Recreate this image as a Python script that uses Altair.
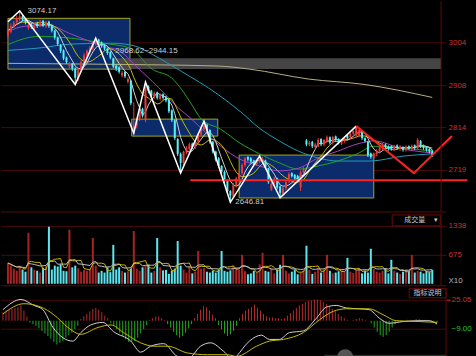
import altair as alt
import pandas as pd

# ---------------- data ----------------
opens = [3020,3028,3040,3048,3055,3062,3055,3036,3044,3036,
         3046,3040,3052,3040,3050,3042,3030,3014,2998,2986,
         2970,2950,2956,2945,2922,2944,2958,2974,2984,2990,
         3000,3010,3004,2998,2990,2982,2968,2952,2948,2930,
         2938,2916,2918,2808,2818,2832,2855,2830,2905,2896,
         2882,2892,2878,2888,2882,2876,2852,2830,2788,2755,
         2735,2758,2766,2778,2770,2782,2798,2810,2820,2808,
         2782,2760,2745,2728,2715,2696,2672,2660,2684,2700,
         2712,2730,2748,2745,2740,2732,2738,2736,2740,2722,
         2676,2690,2700,2682,2666,2678,2694,2712,2708,2706,
         2680,2714,2785,2776,2782,2770,2772,2788,2776,2784,
         2792,2780,2794,2788,2778,2784,2796,2792,2800,2796,
         2796,2806,2790,2782,2756,2746,2754,2762,2768,2776,
         2772,2772,2766,2774,2766,2770,2764,2772,2766,2774,
         2768,2784,2774,2770,2766,2762]
closes = [3030,3040,3048,3058,3062,3055,3048,3042,3038,3044,
          3040,3050,3042,3048,3040,3030,3015,3000,2985,2968,
          2960,2956,2945,2925,2942,2960,2975,2985,2992,3000,
          3008,3002,2996,2990,2980,2970,2950,2945,2938,2936,
          2928,2922,2868,2818,2832,2850,2840,2905,2895,2885,
          2890,2880,2886,2880,2874,2850,2830,2790,2755,2735,
          2760,2768,2776,2770,2782,2798,2812,2818,2808,2782,
          2760,2742,2728,2715,2695,2672,2662,2685,2700,2712,
          2730,2745,2742,2738,2734,2740,2745,2744,2725,2692,
          2688,2700,2680,2668,2678,2692,2710,2705,2700,2698,
          2714,2722,2776,2780,2772,2776,2786,2776,2786,2792,
          2780,2792,2786,2780,2786,2790,2790,2800,2806,2814,
          2808,2790,2784,2752,2748,2756,2762,2770,2775,2770,
          2766,2766,2772,2768,2772,2764,2771,2767,2773,2768,
          2786,2772,2768,2764,2760,2752]
highs = [3036,3046,3052,3064,3074,3066,3058,3048,3048,3048,
         3050,3054,3054,3052,3052,3044,3032,3016,3000,2988,
         2972,2960,2958,2948,2946,2964,2980,2988,2996,3004,
         3013,3012,3006,3000,2992,2984,2970,2955,2950,2940,
         2940,2926,2920,2870,2836,2856,2858,2915,2908,2898,
         2894,2894,2890,2890,2884,2878,2854,2832,2790,2758,
         2762,2772,2780,2780,2786,2802,2816,2828,2822,2810,
         2784,2762,2748,2730,2718,2698,2674,2690,2704,2716,
         2734,2748,2750,2748,2742,2744,2750,2748,2742,2724,
         2692,2704,2702,2684,2682,2696,2714,2714,2710,2708,
         2718,2726,2788,2784,2784,2780,2790,2790,2788,2796,
         2794,2795,2796,2790,2788,2794,2798,2802,2808,2817,
         2812,2808,2792,2784,2758,2758,2766,2773,2779,2778,
         2774,2774,2775,2776,2774,2772,2774,2774,2776,2776,
         2790,2786,2776,2772,2768,2764]
lows = [3014,3024,3036,3044,3050,3050,3044,3032,3034,3032,
        3036,3038,3038,3036,3036,3026,3010,2996,2980,2964,
        2956,2946,2940,2910,2918,2940,2954,2970,2980,2986,
        2996,2998,2992,2986,2976,2966,2946,2940,2934,2926,
        2924,2912,2864,2801,2812,2828,2836,2826,2890,2880,
        2878,2876,2874,2876,2870,2846,2826,2786,2750,2712,
        2730,2754,2762,2766,2766,2778,2794,2806,2804,2778,
        2756,2738,2724,2710,2690,2668,2647,2656,2680,2696,
        2708,2726,2738,2734,2730,2728,2734,2732,2722,2688,
        2672,2686,2676,2657,2662,2674,2690,2702,2696,2694,
        2672,2710,2772,2772,2768,2766,2770,2772,2772,2780,
        2776,2776,2782,2776,2774,2780,2786,2788,2796,2792,
        2792,2786,2780,2748,2744,2742,2750,2758,2764,2766,
        2762,2762,2762,2764,2762,2760,2760,2764,2762,2764,
        2764,2768,2764,2760,2756,2748]
volumes = [480,420,350,300,420,330,280,1180,380,330,
           300,260,370,400,1320,330,420,400,450,300,
           290,1250,380,420,360,280,320,300,340,1060,
           420,260,300,260,380,270,900,330,380,300,
           260,290,350,1220,350,300,380,430,440,260,
           300,1060,380,310,320,230,300,350,990,420,
           330,260,400,240,280,760,350,360,280,260,
           300,260,330,760,300,280,310,420,380,330,
           670,290,220,240,300,260,450,716,300,280,
           360,240,330,440,670,300,240,280,330,220,
           260,310,880,320,230,280,350,260,330,670,
           300,240,260,290,330,300,600,280,250,310,
           360,240,300,260,810,340,280,260,300,360,
           240,555,300,260,230,280,330,300,670,260,
           300,280,240,300,270,320]
macd_hist = [10,12,13,14,15,16,18,12,
             5,
             -2,-4,-6,-9,-12,-15,-18,-21,-25,-28,-26,-24,-20,-17,-14,-10,-6,
             2,5,8,11,14,15,13,10,6,3,
             -3,-6,-10,-14,-18,-22,-25,-25,-24,-20,-15,-10,-5,
             1,3,5,5,3,1,
             -4,-8,-13,-17,-20,-18,-14,-9,-4,
             3,8,13,17,16,12,7,3,
             -5,-10,-15,-18,-16,-12,-6,
             3,8,12,14,16,19,15,12,8,
             5,4,4,3,3,2,
             3,6,9,12,15,18,20,22,23,24,25,25,24,22,20,17,14,11,8,5,3,
             1,0,1,2,3,2,1,0,
             -3,-8,-13,-17,-19,-17,-13,-8,-4,
             -1,-1,0,1,1,1,2,2,1,1,0,-1,-1,-2]

dif_idx = [0,6,10.3,13.3,16.7,23.3,26,29.3,33.3,37,42.7,46,49.3,53.7,58.3,62,66,69.3,73.7,77,78,
           82.3,86.3,89,92.3,95.7,100.3,104.7,108,111.3,114.7,119,122.3,125.7,129,133.7,139,142.3,145]
dif_val = [13,25,18,13,-8,-24,-14,-5,-2,-13,-24,-37,-30,-27,-42,-44,-30,-26,-36,-46,-42,
           -24,-17,-22,-22,-14,-12,3,16,18,15,14,13,3,-3,-1,0,0,-4]
dea_idx = [0,7,12.7,17,21.7,26,31.7,36,40.3,46,50.3,55,61.7,68.3,75,78,84.7,89,93.7,100.3,105.7,
           110.3,114.7,122.3,127,131.3,139,145]
dea_val = [8,20,16,7,-8,-16,-8,-5,-14,-26,-30,-30,-38,-40,-40,-42,-30,-24,-22,-14,1,
           11,14,14,7,0,-1,-2]

ma20_idx = [0,6,13.7,21.7,32.7,38.3,43.7,49.3,53.7,58.3,62.7,67.7,72.7,79.3,86,92.7,99.3,106,112.7,119.3,125,135,145]
ma20_val = [3028,3040,3042,3022,2995,2984,2951,2917,2888,2857,2833,2801,2772,2743,2728,2717,2723,2746,2761,2777,2784,2766,2757]
ma30_idx = [0,10.3,21.7,32.7,41.7,49.3,56,59.3,62.7,66,72.7,79.3,86,92.7,99.3,106,112.7,119.3,125,135,145]
ma30_val = [2999,3017,3013,3002,2991,2944,2924,2899,2866,2833,2810,2779,2755,2735,2721,2728,2739,2755,2772,2768,2761]
ma60_idx = [0,10.3,21.7,36,43.7,49.3,59.3,71.7,79.3,86,92.7,99.3,106,112.7,123.7,135,145]
ma60_val = [2986,2991,3000,3002,2995,2977,2939,2888,2850,2812,2784,2761,2746,2739,2739,2750,2755]
ma120_idx = [0,32.7,71.7,82.7,102.7,121.7,145]
ma120_val = [2957,2955,2951,2944,2922,2910,2881]

zig_idx = [0,4,23,30,43,47,59,67,76,86,93,119]
zig_val = [3050,3074.17,2910,3013,2801,2915,2712,2828,2646.81,2750,2657,2817]
red_idx = [119,138.7,151.7]
red_val = [2817,2712,2795]
hline_idx = [62.3,157]
hline_val = [2696,2696]

box_x0 = [0,42.3,79]
box_x1 = [41.7,71.7,125]
box_top = [3057.5,2832.5,2752.3]
box_bot = [2944.15,2794.6,2656.6]
band_x0, band_x1, band_top, band_bot = 36, 148, 2968.62, 2944.15

price_ticks = [2719, 2814, 2908, 3004]
vol_ticks = [1338, 675, 70]
macd_ticks = [25.05, -9.00]

# ---------------- styling ----------------
RED = "#ec3b3b"
CYAN = "#54f2fa"
VRED = "#a82424"
VCYAN = "#5ee6f0"
GRID = "#480a0a"
FRAME = "#5a0c0c"
AXRED = "#cc3030"
FONT = "Liberation Sans"
XMAX = 148

N = len(closes)
df = pd.DataFrame({"i": list(range(N)), "open": opens, "close": closes, "high": highs,
                   "low": lows, "vol": volumes, "hist": macd_hist})

XS = alt.Scale(domain=[-0.667, XMAX], nice=False, zero=False)


def X(f="i"):
    return alt.X(f"{f}:Q", scale=XS, axis=None)


MS = alt.Scale(domain=[2625.4, 3095.3], nice=False, zero=False)
main_ax = alt.Axis(orient="right", values=price_ticks, format="d", grid=True, gridColor=GRID,
                   ticks=False, domain=False, labelColor=AXRED, labelFont=FONT, labelFontSize=8,
                   labelPadding=2, title=None, minExtent=30, maxExtent=30)


def PY(f):
    return alt.Y(f"{f}:Q", scale=MS, axis=main_ax)


def frame_rules(ycall, ybottom):
    v = alt.Chart(pd.DataFrame({"x": [XMAX]})).mark_rule(color=FRAME, strokeWidth=1).encode(x=X("x"))
    h = alt.Chart(pd.DataFrame({"y": [ybottom]})).mark_rule(color=FRAME, strokeWidth=1).encode(y=ycall("y"))
    return v, h


up = "datum.close >= datum.open"
ccol = alt.condition(up, alt.value(RED), alt.value(CYAN))

boxes = alt.Chart(pd.DataFrame({"x0": box_x0, "x1": box_x1, "top": box_top, "bot": box_bot})).mark_rect(
    fill="#0b2b6b", stroke="#a6a622", strokeWidth=1).encode(x=X("x0"), x2="x1:Q", y=PY("top"), y2="bot:Q")
band = alt.Chart(pd.DataFrame({"x0": [band_x0], "x1": [band_x1], "top": [band_top], "bot": [band_bot]})).mark_rect(
    fill="#4c4c4c", opacity=0.9).encode(x=X("x0"), x2="x1:Q", y=PY("top"), y2="bot:Q")


def sparse_line(ix, vals, color):
    return alt.Chart(pd.DataFrame({"x": ix, "y": vals})).mark_line(
        color=color, strokeWidth=1, interpolate="monotone").encode(x=X("x"), y=PY("y"))


ma120 = sparse_line(ma120_idx, ma120_val, "#b8ae84")
ma60 = sparse_line(ma60_idx, ma60_val, "#1f9cb6")
ma30 = sparse_line(ma30_idx, ma30_val, "#22a422")
ma20 = sparse_line(ma20_idx, ma20_val, "#a444c4")
ma10 = alt.Chart(df).transform_window(m="mean(close)", frame=[-9, 0], sort=[{"field": "i"}]).mark_line(
    color="#c2ba00", strokeWidth=1).encode(x=X(), y=PY("m"))
ma5 = alt.Chart(df).transform_window(m="mean(close)", frame=[-4, 0], sort=[{"field": "i"}]).mark_line(
    color="#cfcfcf", strokeWidth=1).encode(x=X(), y=PY("m"))

wick = alt.Chart(df).mark_rule(strokeWidth=1).encode(x=X(), y=PY("low"), y2="high:Q", color=ccol)
body = alt.Chart(df).mark_bar(size=2).encode(x=X(), y=PY("open"), y2="close:Q", color=ccol)

zig = alt.Chart(pd.DataFrame({"x": zig_idx, "y": zig_val})).mark_line(
    color="#ffffff", strokeWidth=1.5).encode(x=X("x"), y=PY("y"))
redv = alt.Chart(pd.DataFrame({"x": red_idx, "y": red_val})).mark_line(
    color="#ff2222", strokeWidth=2, clip=False).encode(x=X("x"), y=PY("y"))
hline = alt.Chart(pd.DataFrame({"x": hline_idx, "y": hline_val})).mark_line(
    color="#ff2222", strokeWidth=2, clip=False).encode(x=X("x"), y=PY("y"))

labels = alt.Chart(pd.DataFrame({
    "x": [6.7, 36.7, 77.7], "y": [3074.17, 2984, 2647],
    "t": ["3074.17", "2968.62~2944.15", "2646.81"]})).mark_text(
    align="left", baseline="middle", font=FONT, fontSize=8, color="#cccccc").encode(
    x=X("x"), y=PY("y"), text="t:N")

mv, mh = frame_rules(PY, 2625.4)
main = alt.layer(boxes, band, ma120, ma60, ma30, ma20, ma10, ma5, wick, body, hline, zig, redv, labels,
                 mv, mh).properties(width=446, height=211)

# ---------------- volume panel ----------------
VS = alt.Scale(domain=[-46, 1615], nice=False, zero=False)
vol_ax = alt.Axis(orient="right", values=vol_ticks, format="d",
                  labelExpr="datum.value == 70 ? 'X10' : datum.label",
                  grid=True,
                  gridColor={"condition": {"test": "datum.value == 70", "value": "transparent"}, "value": GRID},
                  labelColor={"condition": {"test": "datum.value == 70", "value": "#b4b4b4"}, "value": AXRED},
                  ticks=False, domain=False, labelFont=FONT, labelFontSize=8, labelPadding=2,
                  title=None, minExtent=30, maxExtent=30)


def VY(f):
    return alt.Y(f"{f}:Q", scale=VS, axis=vol_ax)


vbars = alt.Chart(df).transform_calculate(z="0").mark_bar(size=2).encode(
    x=X(), y=VY("vol"), y2="z:Q", color=alt.condition(up, alt.value(VRED), alt.value(VCYAN)))
vma5 = alt.Chart(df).transform_window(m="mean(vol)", frame=[-4, 0], sort=[{"field": "i"}]).mark_line(
    color="#c8b400", strokeWidth=1).encode(x=X(), y=VY("m"))
vma10 = alt.Chart(df).transform_window(m="mean(vol)", frame=[-9, 0], sort=[{"field": "i"}]).mark_line(
    color="#bdbdbd", strokeWidth=1).encode(x=X(), y=VY("m"))
vbox = alt.Chart(pd.DataFrame({"x0": [131.3], "x1": [147.7], "top": [1592], "bot": [1338]})).mark_rect(
    fill="#000000", stroke="#6a0c0c", strokeWidth=1).encode(x=X("x0"), x2="x1:Q", y=VY("top"), y2="bot:Q")
vtxt = alt.Chart(pd.DataFrame({"x": [139, 146.2], "y": [1468, 1468], "t": ["成交量", "▾"]})).mark_text(
    font="Noto Sans CJK SC", fontSize=7, color="#c8c8c8", baseline="middle").encode(
    x=X("x"), y=VY("y"), text="t:N")

vv, vh = frame_rules(VY, -46)
vol = alt.layer(vbars, vma5, vma10, vbox, vtxt, vv, vh).properties(width=446, height=72)

# ---------------- MACD panel ----------------
DS = alt.Scale(domain=[-46.95, 38.73], nice=False, zero=False)
macd_ax = alt.Axis(orient="right", values=macd_ticks, format=".2f", grid=True, gridColor=GRID,
                   labelColor={"condition": {"test": "datum.value < 0", "value": "#22c422"}, "value": AXRED},
                   ticks=True, tickSize=4,
                   tickColor={"condition": {"test": "datum.value < 0", "value": "transparent"}, "value": AXRED},
                   domain=False, labelFont=FONT, labelFontSize=8, labelPadding=1, title=None,
                   minExtent=30, maxExtent=30)


def DY(f):
    return alt.Y(f"{f}:Q", scale=DS, axis=macd_ax)


hist = alt.Chart(df).transform_calculate(z="0").mark_rule(strokeWidth=1).encode(
    x=X(), y=DY("hist"), y2="z:Q",
    color=alt.condition("datum.hist >= 0", alt.value("#b82c2c"), alt.value("#1fa81f")))
dif = alt.Chart(pd.DataFrame({"x": dif_idx, "y": dif_val})).mark_line(
    color="#d2d2d2", strokeWidth=1, interpolate="monotone").encode(x=X("x"), y=DY("y"))
dea = alt.Chart(pd.DataFrame({"x": dea_idx, "y": dea_val})).mark_line(
    color="#c6bc00", strokeWidth=1, interpolate="monotone").encode(x=X("x"), y=DY("y"))
mbox = alt.Chart(pd.DataFrame({"x0": [135.7], "x1": [148], "top": [37.6], "bot": [27.0]})).mark_rect(
    fill="#000000", stroke="#6a0c0c", strokeWidth=1).encode(x=X("x0"), x2="x1:Q", y=DY("top"), y2="bot:Q")
mtxt = alt.Chart(pd.DataFrame({"x": [141.8], "y": [32.3], "t": ["指标说明"]})).mark_text(
    font="Noto Sans CJK SC", fontSize=7, color="#c8c8c8", baseline="middle").encode(
    x=X("x"), y=DY("y"), text="t:N")
sbar = alt.Chart(pd.DataFrame({"x0": [107.3], "x1": [148], "top": [-39.9], "bot": [-46.9]})).mark_rect(
    fill="#2e2e2e").encode(x=X("x0"), x2="x1:Q", y=DY("top"), y2="bot:Q")
sknob = alt.Chart(pd.DataFrame({"x": [114.3], "y": [-43.0]})).mark_point(
    filled=True, size=260, color="#555555", opacity=1).encode(x=X("x"), y=DY("y"))

dv = alt.Chart(pd.DataFrame({"x": [XMAX]})).mark_rule(color=FRAME, strokeWidth=1).encode(x=X("x"))
macd = alt.layer(hist, dif, dea, mbox, mtxt, sbar, sknob, dv).properties(width=446, height=73)

chart = alt.vconcat(main, vol, macd, spacing=0).properties(
    background="#000000", padding=0).configure_view(stroke=None)

chart.save("out.html", embed_options={"renderer": "svg", "actions": False})
